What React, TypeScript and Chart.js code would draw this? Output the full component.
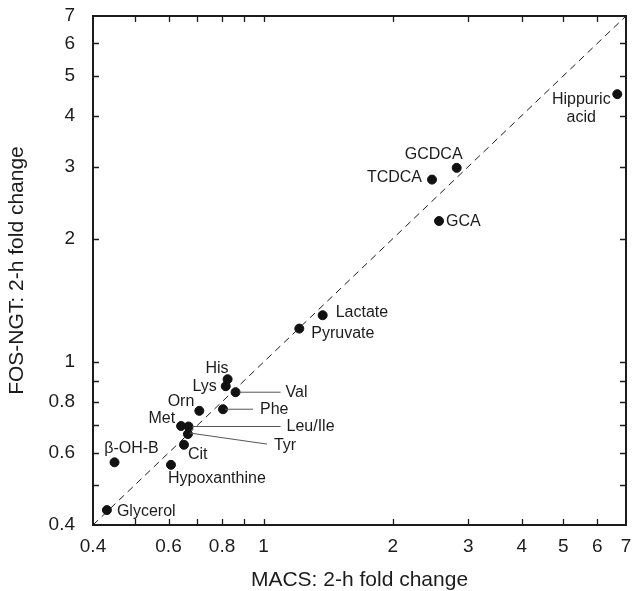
import React, { useEffect, useRef } from 'react';
import { Chart, registerables } from 'chart.js';

Chart.register(...registerables);

// ---- data ----
const metabolites = [
  'Glycerol', 'β-OH-B', 'Hypoxanthine', 'Cit', 'Tyr', 'Leu/Ile', 'Met', 'Orn', 'Phe',
  'Val', 'Lys', 'His', 'Pyruvate', 'Lactate', 'TCDCA', 'GCDCA', 'GCA', 'Hippuric acid',
];
const macsFoldChange = [
  0.431, 0.449, 0.608, 0.652, 0.666, 0.668, 0.642, 0.708, 0.804,
  0.86, 0.816, 0.824, 1.211, 1.373, 2.47, 2.82, 2.565, 6.68,
];
const fosNgtFoldChange = [
  0.435, 0.569, 0.561, 0.628, 0.667, 0.696, 0.698, 0.76, 0.767,
  0.844, 0.873, 0.908, 1.207, 1.301, 2.79, 2.98, 2.21, 4.51,
];
const tickValues = [0.4, 0.5, 0.6, 0.7, 0.8, 0.9, 1, 2, 3, 4, 5, 6, 7];
const tickLabels = ['0.4', '', '0.6', '', '0.8', '', '1', '2', '3', '4', '5', '6', '7'];
const identityLine = [0.4, 7];
const xTitle = 'MACS: 2-h fold change';
const yTitle = 'FOS-NGT: 2-h fold change';

// ---- label placement (pixel offsets from each point) ----
type Placement = {
  dx: number;
  dy: number;
  align: CanvasTextAlign;
  lines?: string[];
  leader?: [number, number, number, number];
};
const labelPlacement: Record<string, Placement> = {
  'Glycerol': { dx: 10, dy: 2, align: 'left' },
  'β-OH-B': { dx: 17, dy: -14, align: 'center' },
  'Hypoxanthine': { dx: -3, dy: 14, align: 'left' },
  'Cit': { dx: 4, dy: 10, align: 'left' },
  'Tyr': { dx: 86, dy: 12, align: 'left', leader: [2, -1, 79, 10] },
  'Leu/Ile': { dx: 98, dy: 0, align: 'left', leader: [4, 0, 92, 0] },
  'Met': { dx: -6, dy: -7, align: 'right' },
  'Orn': { dx: -5, dy: -9, align: 'right' },
  'Phe': { dx: 37, dy: 0, align: 'left', leader: [2, 0, 30, 0] },
  'Val': { dx: 50, dy: 0, align: 'left', leader: [4, 0, 45, 0] },
  'Lys': { dx: -9, dy: 0, align: 'right' },
  'His': { dx: 1, dy: -11, align: 'right' },
  'Pyruvate': { dx: 12, dy: 5, align: 'left' },
  'Lactate': { dx: 13, dy: -3, align: 'left' },
  'TCDCA': { dx: -10, dy: -2, align: 'right' },
  'GCDCA': { dx: -23, dy: -13, align: 'center' },
  'GCA': { dx: 7, dy: 1, align: 'left' },
  'Hippuric acid': { dx: -36, dy: 5, align: 'center', lines: ['Hippuric', 'acid'] },
};

const FONT = '"Liberation Sans", Arial, Helvetica, sans-serif';
const INK = '#1c1c1c';

const framePlugin = {
  id: 'frameAndTicks',
  afterDraw(chart: any) {
    const { ctx, chartArea } = chart;
    const { left, right, top, bottom } = chartArea;
    ctx.save();
    ctx.strokeStyle = INK;
    ctx.lineWidth = 1.3;
    const xs = chart.scales.x;
    const ys = chart.scales.y;
    const len = 6;
    ctx.beginPath();
    xs.ticks.forEach((t: any) => {
      if (t.value <= 0.4 || t.value >= 7) return;
      const px = Math.round(xs.getPixelForValue(t.value)) + 0.5;
      ctx.moveTo(px, bottom);
      ctx.lineTo(px, bottom - len);
      ctx.moveTo(px, top);
      ctx.lineTo(px, top + len);
    });
    ys.ticks.forEach((t: any) => {
      if (t.value <= 0.4 || t.value >= 7) return;
      const py = Math.round(ys.getPixelForValue(t.value)) + 0.5;
      ctx.moveTo(left, py);
      ctx.lineTo(left + len, py);
      ctx.moveTo(right, py);
      ctx.lineTo(right - len, py);
    });
    ctx.stroke();
    ctx.lineWidth = 2;
    ctx.strokeRect(left, top, right - left, bottom - top);
    ctx.restore();
  },
};

const labelPlugin = {
  id: 'pointLabels',
  afterDatasetsDraw(chart: any) {
    const { ctx } = chart;
    const meta = chart.getDatasetMeta(1);
    ctx.save();
    ctx.font = `16px ${FONT}`;
    ctx.fillStyle = INK;
    ctx.textBaseline = 'middle';
    metabolites.forEach((name, i) => {
      const el = meta.data[i];
      if (!el) return;
      const p = labelPlacement[name];
      if (!p) return;
      const x = el.x;
      const y = el.y;
      if (p.leader) {
        ctx.save();
        ctx.strokeStyle = '#555';
        ctx.lineWidth = 1;
        ctx.beginPath();
        ctx.moveTo(x + p.leader[0], y + p.leader[1]);
        ctx.lineTo(x + p.leader[2], y + p.leader[3]);
        ctx.stroke();
        ctx.restore();
      }
      ctx.textAlign = p.align;
      const lines = p.lines || [name];
      lines.forEach((ln, k) => {
        ctx.fillText(ln, x + p.dx, y + p.dy + k * 18);
      });
    });
    ctx.restore();
  },
};

export default function App() {
  const canvasRef = useRef<HTMLCanvasElement | null>(null);

  useEffect(() => {
    if (!canvasRef.current) return;
    const points = macsFoldChange.map((v, i) => ({ x: v, y: fosNgtFoldChange[i] }));
    const diag = identityLine.map((v) => ({ x: v, y: v }));
    const chart = new Chart(canvasRef.current, {
      type: 'scatter',
      data: {
        datasets: [
          {
            type: 'line',
            label: 'identity',
            data: diag,
            borderColor: INK,
            borderWidth: 1,
            borderDash: [7, 5],
            pointRadius: 0,
            fill: false,
          } as any,
          {
            label: 'metabolites',
            data: points,
            backgroundColor: '#111',
            borderColor: '#111',
            pointRadius: 4.5,
            pointHoverRadius: 4.5,
          },
        ],
      },
      options: {
        animation: false,
        responsive: true,
        maintainAspectRatio: false,
        layout: { padding: { top: 16, right: 11, left: 0, bottom: 0 } },
        plugins: {
          legend: { display: false },
          tooltip: { enabled: false },
        },
        scales: {
          x: {
            type: 'logarithmic',
            min: 0.4,
            max: 7,
            border: { display: false },
            grid: { display: false, drawTicks: false },
            afterBuildTicks: (scale: any) => {
              scale.ticks = tickValues.map((v) => ({ value: v }));
            },
            afterFit: (scale: any) => {
              scale.height = 66;
              scale.paddingLeft = 0;
              scale.paddingRight = 0;
              scale.paddingTop = 0;
              scale.paddingBottom = 0;
            },
            ticks: {
              autoSkip: false,
              maxRotation: 0,
              padding: 10,
              color: INK,
              font: { family: FONT, size: 19 },
              callback: (_v: any, idx: number) => tickLabels[idx],
            },
            title: {
              display: true,
              text: xTitle,
              color: INK,
              font: { family: FONT, size: 21, lineHeight: 1 },
              padding: { top: 0, bottom: 0 },
            },
          },
          y: {
            type: 'logarithmic',
            min: 0.4,
            max: 7,
            border: { display: false },
            grid: { display: false, drawTicks: false },
            afterBuildTicks: (scale: any) => {
              scale.ticks = tickValues.map((v) => ({ value: v }));
            },
            afterFit: (scale: any) => {
              scale.width = 93;
              scale.paddingLeft = 0;
              scale.paddingRight = 0;
              scale.paddingTop = 0;
              scale.paddingBottom = 0;
            },
            ticks: {
              autoSkip: false,
              padding: 18,
              color: INK,
              font: { family: FONT, size: 19 },
              callback: (_v: any, idx: number) => tickLabels[idx],
            },
            title: {
              display: true,
              text: yTitle,
              color: INK,
              font: { family: FONT, size: 21, lineHeight: 1 },
              padding: { top: 7, bottom: 0 },
            },
          },
        },
      },
      plugins: [framePlugin, labelPlugin],
    });
    return () => chart.destroy();
  }, []);

  return (
    <div style={{ position: 'absolute', left: 0, top: 0, width: 637, height: 591, background: '#fff' }}>
      <canvas ref={canvasRef} />
    </div>
  );
}
